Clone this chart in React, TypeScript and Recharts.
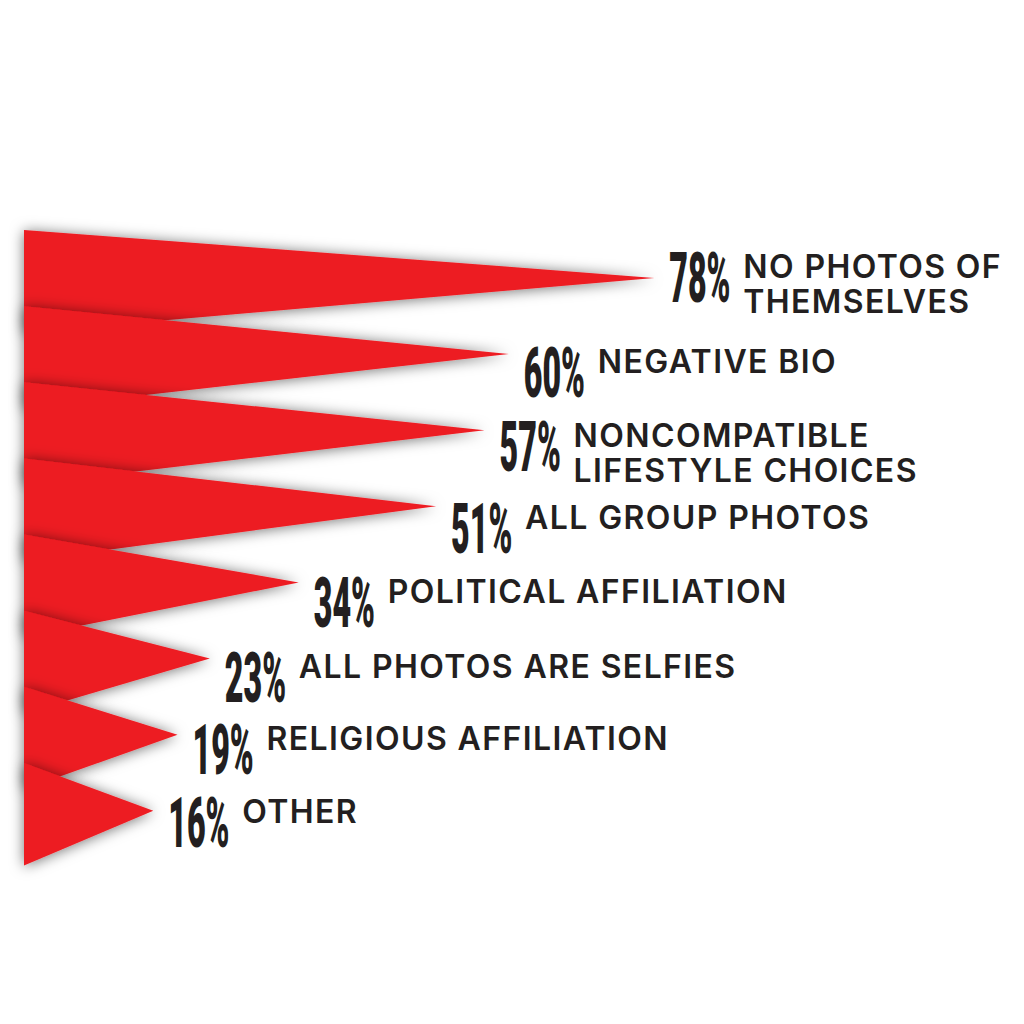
import React from 'react'
import { BarChart, Bar, XAxis, YAxis } from 'recharts'

// reasons for swiping left, share of respondents (%)
const reasons = [
  'No photos of themselves',
  'Negative bio',
  'Noncompatible lifestyle choices',
  'All group photos',
  'Political affiliation',
  'All photos are selfies',
  'Religious affiliation',
  'Other',
]
const shares = [78, 60, 57, 51, 34, 23, 19, 16]
const reasonLines = [
  ['NO PHOTOS OF', 'THEMSELVES'],
  ['NEGATIVE BIO'],
  ['NONCOMPATIBLE', 'LIFESTYLE CHOICES'],
  ['ALL GROUP PHOTOS'],
  ['POLITICAL AFFILIATION'],
  ['ALL PHOTOS ARE SELFIES'],
  ['RELIGIOUS AFFILIATION'],
  ['OTHER'],
]

// how far each label block sits above its wedge tip
const labelLift = [26, 7, 9, 3, 5, 7, 11, 14]

const RED = '#ED1C24'
const INK = '#231F20'

const data = reasons.map((reason, i) => ({
  reason,
  share: shares[i],
  lines: reasonLines[i],
}))

function Wedge(props: any) {
  const { x, y, width, height, index, payload } = props
  const tipX = x + width
  const tipY = y + height * 0.63
  const bottom = y + height * 1.35
  const top = tipY - labelLift[index]

  return (
    <g>
      <polygon
        points={`${x},${y} ${tipX},${tipY} ${x},${bottom}`}
        fill={RED}
        filter="url(#wedgeShadow)"
      />
      {/* condensed figure: squeeze a heavy face horizontally */}
      <text
        transform={`translate(${tipX + 15}, ${top + 50}) scale(0.46, 1)`}
        fill={INK}
        fontFamily="Roboto, sans-serif"
        fontWeight={900}
        fontSize={70}
      >
        {payload.share}%
      </text>
      {payload.lines.map((line: string, k: number) => (
        <text
          key={k}
          x={tipX + 89}
          y={top + 26 + k * 35}
          fill={INK}
          fontFamily="Inter, sans-serif"
          fontWeight={600}
          fontSize={32}
          letterSpacing={1.4}
        >
          {line}
        </text>
      ))}
    </g>
  )
}

export default function App() {
  return (
    <div style={{ position: 'absolute', left: 0, top: 0, width: 1024, height: 1024, background: '#fff' }}>
      <BarChart
        width={1024}
        height={1024}
        data={data}
        layout="vertical"
        barCategoryGap={0}
        barGap={0}
        margin={{ top: 230, right: 192, bottom: 185, left: 24 }}
      >
        <defs>
          <filter id="wedgeShadow" x="-20%" y="-50%" width="140%" height="200%">
            <feDropShadow dx={0} dy={1} stdDeviation={7} floodColor="#000" floodOpacity={0.55} />
          </filter>
        </defs>
        <XAxis type="number" domain={[0, 100]} hide />
        <YAxis type="category" dataKey="reason" hide />
        <Bar dataKey="share" shape={Wedge} isAnimationActive={false} />
      </BarChart>
    </div>
  )
}
